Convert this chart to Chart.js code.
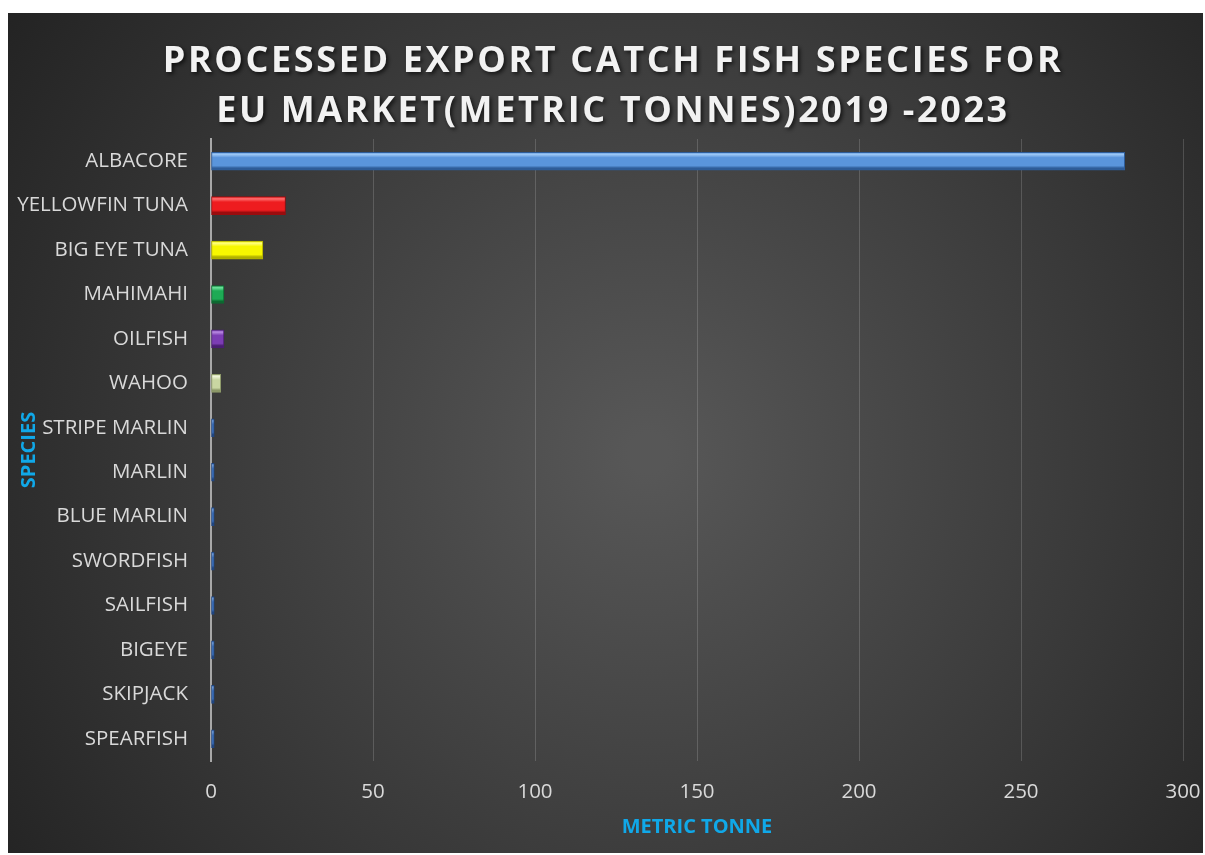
<!DOCTYPE html>
<html>
<head>
<meta charset="utf-8">
<script src="https://cdn.jsdelivr.net/npm/chart.js@4.4.1/dist/chart.umd.min.js"></script>
<style>
  body { margin: 0; background: #fff; }
  #wrap { position: absolute; left: 8px; top: 13px; width: 1195px; height: 840px; }
</style>
</head>
<body>
<div id="wrap"><canvas id="fish"></canvas></div>
<script>
var species = [
  "ALBACORE", "YELLOWFIN TUNA", "BIG EYE TUNA", "MAHIMAHI", "OILFISH", "WAHOO",
  "STRIPE MARLIN", "MARLIN", "BLUE MARLIN", "SWORDFISH", "SAILFISH", "BIGEYE",
  "SKIPJACK", "SPEARFISH"
];
var tonnes = [282, 23, 16, 4, 4, 3, 1, 1, 1, 1, 1, 1, 1, 1];
var xTicks = [0, 50, 100, 150, 200, 250, 300];
var titleLines = ["PROCESSED EXPORT CATCH FISH SPECIES FOR", "EU MARKET(METRIC TONNES)2019 -2023"];

// [light, mid, dark] per bar
var barColors = [
  ["#9cc7f5", "#5a95dc", "#2e5c98"],
  ["#ff7070", "#ee1c1f", "#9a0c0e"],
  ["#ffff80", "#f7f700", "#b0b000"],
  ["#6ee39d", "#1eaa55", "#0b6a30"],
  ["#b98ae2", "#7c3db4", "#4a1e72"],
  ["#eef3d8", "#c9d6a2", "#8c9868"],
  ["#7eaae6", "#3f74c0", "#1f4580"]
];
function colorFor(i) { return barColors[Math.min(i, 6)]; }

var bgPlugin = {
  id: "bg",
  beforeDraw: function (chart) {
    var c = chart.ctx, w = chart.width, h = chart.height;
    c.save();
    var g = c.createRadialGradient(640, 440, 20, 640, 440, 780);
    g.addColorStop(0, "#575757");
    g.addColorStop(1, "#232323");
    c.fillStyle = g;
    c.fillRect(0, 0, w, h);
    // title
    c.font = "bold 36px 'Open Sans'";
    c.letterSpacing = "2.6px";
    c.textAlign = "center";
    c.textBaseline = "middle";
    c.fillStyle = "#f2f2f2";
    c.shadowColor = "rgba(0,0,0,0.7)";
    c.shadowBlur = 4;
    c.shadowOffsetX = 2;
    c.shadowOffsetY = 2;
    c.fillText(titleLines[0], 605, 49);
    c.fillText(titleLines[1], 605, 99);
    c.restore();
  }
};

var ctx = document.getElementById("fish");
var chart = new Chart(ctx, {
  type: "bar",
  data: {
    labels: species,
    datasets: [{
      data: tonnes,
      barThickness: 18,
      borderWidth: 1,
      borderSkipped: false,
      borderColor: function (context) { return colorFor(context.dataIndex)[2]; },
      backgroundColor: function (context) {
        var cols = colorFor(context.dataIndex);
        var ys = context.chart.scales && context.chart.scales.y;
        if (!ys || !context.chart.chartArea) return cols[1];
        var y = ys.getPixelForValue(context.dataIndex);
        var g = context.chart.ctx.createLinearGradient(0, y - 9, 0, y + 9);
        g.addColorStop(0, cols[1]);
        g.addColorStop(0.12, cols[0]);
        g.addColorStop(0.3, cols[1]);
        g.addColorStop(0.75, cols[1]);
        g.addColorStop(0.88, cols[2]);
        g.addColorStop(1, cols[2]);
        return g;
      }
    }]
  },
  options: {
    indexAxis: "y",
    responsive: true,
    maintainAspectRatio: false,
    animation: false,
    layout: { padding: { top: 126, left: 7, right: 20, bottom: 10 } },
    plugins: {
      legend: { display: false },
      tooltip: { enabled: false }
    },
    scales: {
      x: {
        min: 0,
        max: 300,
        afterBuildTicks: function (scale) {
          scale.ticks = xTicks.map(function (v) { return { value: v }; });
        },
        afterFit: function (scale) {
          scale.height = 82;
          scale.paddingLeft = 0;
          scale.paddingRight = 0;
        },
        grid: { color: "rgba(255,255,255,0.16)", lineWidth: 1, drawTicks: false },
        border: { display: false },
        ticks: { color: "#d9d9d9", padding: 19, font: { family: "'Open Sans'", size: 20.5 } },
        title: {
          display: true,
          text: "METRIC TONNE",
          color: "#10a8e8",
          font: { family: "'Open Sans'", size: 20, weight: "bold" }
        }
      },
      y: {
        afterFit: function (scale) { scale.width = 196; },
        grid: { display: false },
        border: { display: true, color: "#a8a8a8", width: 2 },
        ticks: { color: "#d9d9d9", padding: 15, autoSkip: false, font: { family: "'Open Sans'", size: 20.5 } },
        title: {
          display: true,
          text: "SPECIES",
          color: "#10a8e8",
          padding: { top: 2, bottom: 2 },
          font: { family: "'Open Sans'", size: 20, weight: "bold" }
        }
      }
    }
  },
  plugins: [bgPlugin]
});
</script>
</body>
</html>
